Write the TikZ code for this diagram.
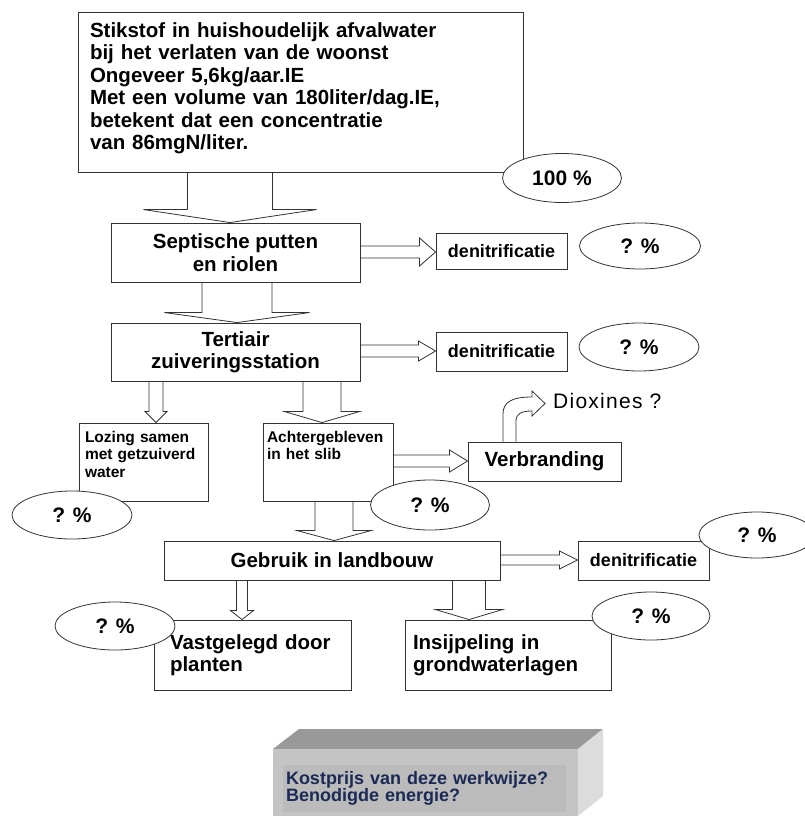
\documentclass[tikz,border=0pt]{standalone}
\usepackage{fontspec}
\setmainfont{Liberation Sans}
\usetikzlibrary{shapes.geometric,calc}

\definecolor{lidtop}{HTML}{999999}
\definecolor{lidfront}{HTML}{C4C4C4}
\definecolor{lidside}{HTML}{DCDCDC}
\definecolor{lidinner}{HTML}{BBBBBB}
\definecolor{costink}{HTML}{1B2A55}

\tikzset{
  box/.style={draw=black!80, line width=0.9pt, fill=white, inner sep=0pt,
    font=\fontsize{20.5}{22.5}\selectfont\bfseries},
  smallbox/.style={box, font=\fontsize{15.5}{17.5}\selectfont\bfseries},
  denbox/.style={box, font=\fontsize{18}{20}\selectfont\bfseries},
  oval/.style={ellipse, draw=black!80, line width=0.8pt, fill=white, inner sep=0pt,
    font=\fontsize{21}{24}\selectfont\bfseries},
  flow/.style={draw=black!80, line width=0.8pt}
}

% x, from, to, shaft half width, head half width, head length
\newcommand{\flowdown}[6]{%
  \draw[flow] (#1-#4,0 |- #2.south) -- ($(#1-#4,0 |- #3.north)+(0,-#6)$)
    -- ($(#1-#5,0 |- #3.north)+(0,-#6)$) -- (#1,0 |- #3.north)
    -- ($(#1+#5,0 |- #3.north)+(0,-#6)$) -- ($(#1+#4,0 |- #3.north)+(0,-#6)$)
    -- (#1+#4,0 |- #2.south);}
% y, from, to, shaft half width, head half width, head length
\newcommand{\flowright}[6]{%
  \draw[flow] (#2.east |- 0,#1-#4) -- ($(#3.west |- 0,#1-#4)+(-#6,0)$)
    -- ($(#3.west |- 0,#1-#5)+(-#6,0)$) -- (#3.west |- 0,#1)
    -- ($(#3.west |- 0,#1+#5)+(-#6,0)$) -- ($(#3.west |- 0,#1+#4)+(-#6,0)$)
    -- (#2.east |- 0,#1+#4);}

\begin{document}
\begin{tikzpicture}[x=1pt, y=-1pt]
        \useasboundingbox[fill=white] (0,0) rectangle (805,816);

        % boxes
        \node[box, minimum width=445pt, minimum height=160pt, inner xsep=12pt,
          text width=421pt, align=left, text height=20pt, text depth=129pt] at (300.5,92)(src)
          {Stikstof in huishoudelijk afvalwater\\bij het verlaten van de woonst\\Ongeveer 5,6kg/aar.IE\\Met een volume van 180liter/dag.IE,\\betekent dat een concentratie\\van 86mgN/liter.};
        \node[box, minimum width=249pt, minimum height=59pt, align=center] at (235.5,252.5)(sep){Septische putten\\en riolen};
        \node[box, minimum width=249pt, minimum height=58pt, align=center] at (235.5,352)(ter){Tertiair\\zuiveringsstation};
        \node[denbox, minimum width=131pt, minimum height=36pt] at (501.5,251)(den1){denitrificatie};
        \node[denbox, minimum width=131pt, minimum height=39pt] at (501.5,351.5)(den2){denitrificatie};
        \node[smallbox, minimum width=129pt, minimum height=78pt, inner xsep=6pt,
          text width=117pt, align=left, text height=15pt, text depth=55pt] at (143.5,462)(loz){Lozing samen\\met getzuiverd\\water};
        \node[smallbox, minimum width=130pt, minimum height=78pt, inner xsep=4pt,
          text width=122pt, align=left, text height=15pt, text depth=55pt] at (328,462)(slib){Achtergebleven\\in het slib};
        \node[box, minimum width=153pt, minimum height=39pt] at (544.5,461.5)(verb){Verbranding};
        \node[box, minimum width=336pt, minimum height=39pt] at (332,560.5)(landb){Gebruik in landbouw};
        \node[denbox, minimum width=131pt, minimum height=39pt] at (643.5,560.5)(den3){denitrificatie};
        \node[box, minimum width=197pt, minimum height=70pt, inner xsep=16pt,
          text width=165pt, align=left] at (252.5,655)(plant){Vastgelegd door\\planten};
        \node[box, minimum width=206pt, minimum height=70pt, inner xsep=8pt,
          text width=190pt, align=left] at (508,655)(grond){Insijpeling in\\grondwaterlagen};
        \node[anchor=base west, inner sep=0pt,
          font=\fontsize{21}{24}\selectfont\addfontfeature{LetterSpace=6}] at (553,408)(diox){Dioxines ?};

        % block arrows
        \flowdown{230}{src}{sep}{42.5}{86.5}{13}
        \flowdown{237}{sep}{ter}{35}{72.5}{10}
        \flowdown{156}{ter}{loz}{7}{11}{11}
        \flowdown{322}{ter}{slib}{19}{37.5}{11}
        \flowdown{334}{slib}{landb}{19}{37}{10}
        \flowdown{242}{landb}{plant}{5.5}{11.5}{9}
        \flowdown{469}{landb}{grond}{16.5}{33.5}{10}
        \flowright{252}{sep}{den1}{6}{14}{16}
        \flowright{351}{ter}{den2}{6}{10}{17}
        \flowright{461}{slib}{verb}{6}{11}{18}
        \flowright{560}{landb}{den3}{5}{9}{18}
        \draw[flow] (503,0 |- verb.north) -- (503,414) .. controls (503,402) and (512,397) .. (532,397)
          -- (532,391) -- (545,403.5) -- (532,416) -- (532,411)
          .. controls (521,411) and (516,414) .. (516,421) -- (516,0 |- verb.north);

        % shares
        \node[oval, minimum width=119pt, minimum height=49pt] at (562,178)(p100){100 \%};
        \node[oval, minimum width=121pt, minimum height=46pt] at (640,246)(p1){? \%};
        \node[oval, minimum width=120pt, minimum height=48pt] at (639,347)(p2){? \%};
        \node[oval, minimum width=120pt, minimum height=48pt] at (72,515)(ploz){? \%};
        \node[oval, minimum width=119pt, minimum height=50pt] at (430,505)(pslib){? \%};
        \node[oval, minimum width=116pt, minimum height=46pt] at (757,535)(p3){? \%};
        \node[oval, minimum width=120pt, minimum height=48pt] at (115,626)(pplant){? \%};
        \node[oval, minimum width=118pt, minimum height=48pt] at (651,616)(pgrond){? \%};

        % cost block
        \fill[lidtop] (273,749) -- (299,729) -- (603,729) -- (578,749) -- cycle;
        \fill[lidfront] (273,749) rectangle (578,816);
        \fill[lidside] (578,749) -- (603,729) -- (603,796) -- (578,816) -- cycle;
        \node[fill=lidinner, minimum width=283pt, minimum height=47pt, inner xsep=3pt,
          text width=277pt, align=left, text=costink,
          font=\fontsize{18}{17}\selectfont\bfseries] at (424.5,788.5)(cost)
          {Kostprijs van deze werkwijze?\\Benodigde energie?};
    \end{tikzpicture}
\end{document}
